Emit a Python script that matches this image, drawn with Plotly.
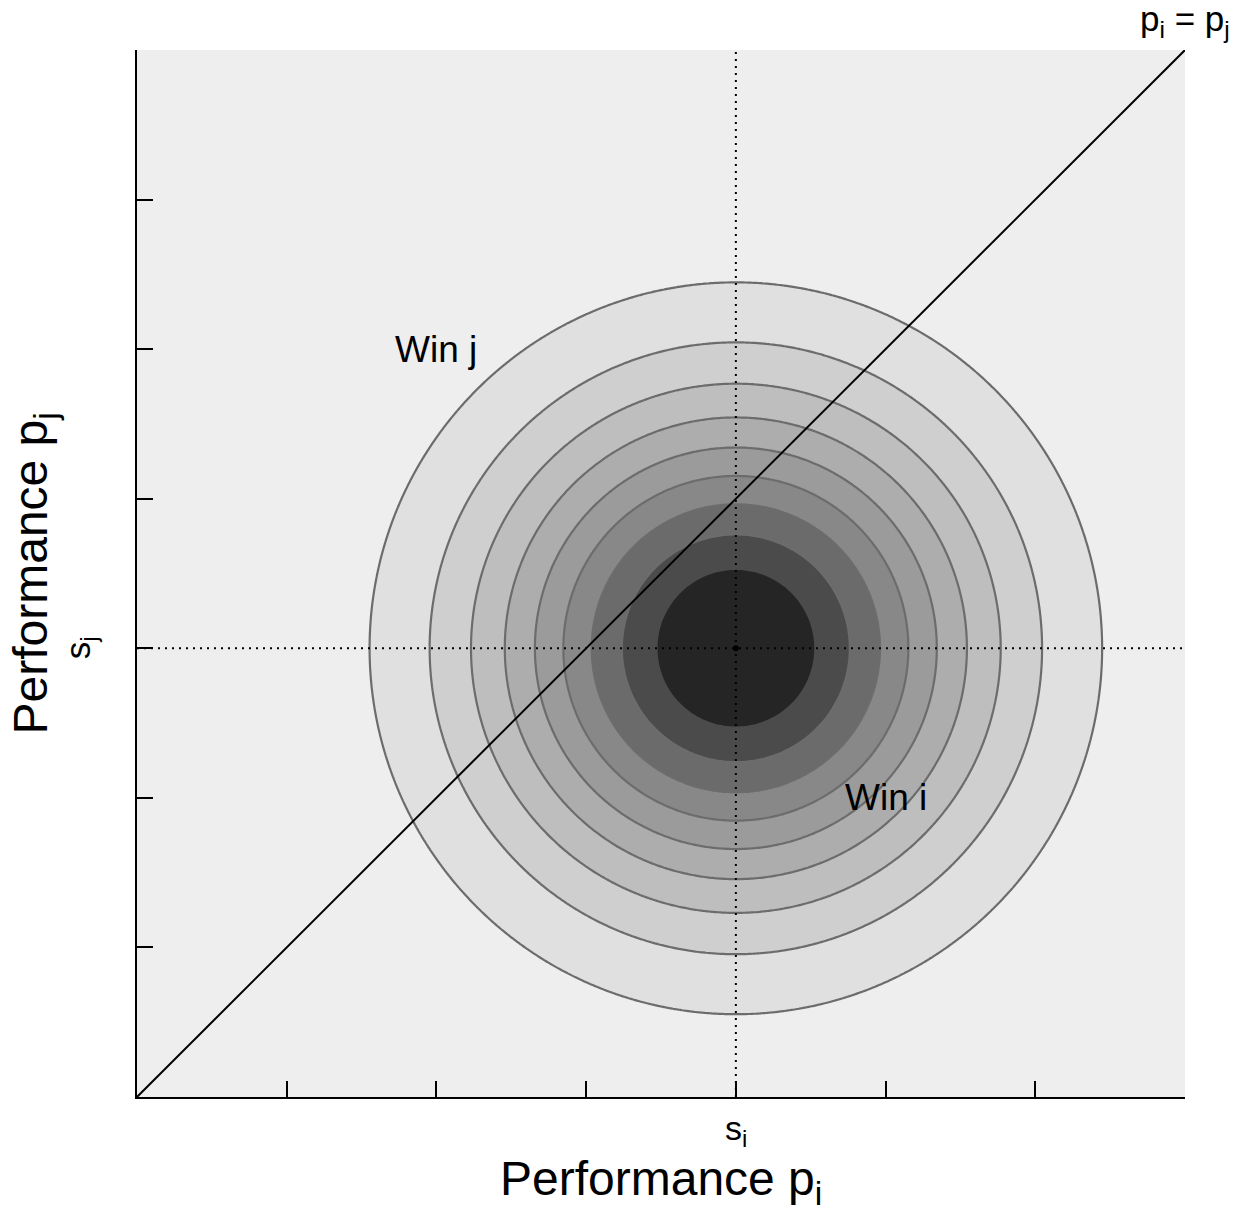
import numpy as np
import plotly.graph_objects as go

# Skill of player i and player j (centre of the joint performance density)
skill_i = 4.0
skill_j = 3.0
# Spread of each player's performance around the skill
perf_sigma = 1.14
# Relative density levels drawn as contours
density_levels = [0.1, 0.2, 0.3, 0.4, 0.5, 0.6, 0.7, 0.8, 0.9]
# Fill colours, from the region outside the lowest level to the core
band_colors = ["#eeeeee", "#e0e0e0", "#cfcfcf", "#bebebe", "#adadad",
               "#9b9b9b", "#888888", "#6b6b6b", "#4b4b4b", "#252525"]
# Axis extent and tick positions
axis_max = 7
tick_positions = [0, 1, 2, 3, 4, 5, 6, 7]

FONT = "Liberation Sans, Arial, sans-serif"

# Joint density of the two independent performances, relative to its peak
grid = np.linspace(0, axis_max, 351)
gx, gy = np.meshgrid(grid, grid)
rel_density = np.exp(-((gx - skill_i) ** 2 + (gy - skill_j) ** 2) / (2 * perf_sigma ** 2))

n_bands = len(band_colors)
colorscale = [[k / (n_bands - 1), c] for k, c in enumerate(band_colors)]
step = density_levels[1] - density_levels[0]

fig = go.Figure()

# Filled density bands
fig.add_trace(go.Contour(
    x=grid, y=grid, z=rel_density,
    colorscale=colorscale,
    showscale=False,
    contours=dict(start=density_levels[0], end=density_levels[-1], size=step,
                  coloring="fill", showlines=False),
    line=dict(width=0, smoothing=1),
    hoverinfo="skip",
))

# Outline of every band except the dark core
fig.add_trace(go.Contour(
    x=grid, y=grid, z=rel_density,
    showscale=False,
    contours=dict(start=density_levels[0], end=density_levels[-2], size=step,
                  coloring="none", showlines=True),
    line=dict(color="#6c6c6c", width=2.2, smoothing=1),
    hoverinfo="skip",
))

# Dotted crosshair through the skills
fig.add_trace(go.Scatter(x=[skill_i, skill_i], y=[0, axis_max], mode="lines",
                         line=dict(color="black", width=2, dash="2px,5px"),
                         hoverinfo="skip", showlegend=False))
fig.add_trace(go.Scatter(x=[0, axis_max], y=[skill_j, skill_j], mode="lines",
                         line=dict(color="black", width=2, dash="2px,5px"),
                         hoverinfo="skip", showlegend=False))

# Draw line p_i = p_j
fig.add_trace(go.Scatter(x=[0, axis_max], y=[0, axis_max], mode="lines",
                         line=dict(color="black", width=2),
                         hoverinfo="skip", showlegend=False))

# Centre point
fig.add_trace(go.Scatter(x=[skill_i], y=[skill_j], mode="markers",
                         marker=dict(color="black", size=6),
                         hoverinfo="skip", showlegend=False))

axis_common = dict(range=[0, axis_max], tickvals=tick_positions, showticklabels=False,
                   ticks="inside", ticklen=16, tickwidth=2, tickcolor="black",
                   showline=True, linewidth=2, linecolor="black",
                   showgrid=False, zeroline=False, mirror=False)

fig.update_layout(
    width=1247, height=1211,
    margin=dict(l=137, r=62, t=50, b=114),
    paper_bgcolor="white", plot_bgcolor="#eeeeee",
    font=dict(family=FONT, color="black"),
    showlegend=False,
    xaxis=axis_common,
    yaxis=axis_common,
)

annotations = [
    dict(x=2, y=5, xref="x", yref="y", text="Win j", showarrow=False,
         font=dict(size=37)),
    dict(x=5, y=2, xref="x", yref="y", text="Win i", showarrow=False,
         font=dict(size=37)),
    dict(x=axis_max, y=axis_max, xref="x", yref="y", text="p<sub>i</sub> = p<sub>j</sub>",
         showarrow=False, yanchor="bottom", yshift=5, font=dict(size=35)),
    dict(x=skill_i, y=0, xref="x", yref="paper", text="s<sub>i</sub>",
         showarrow=False, yanchor="top", yshift=-10, font=dict(size=34)),
    dict(x=0, y=skill_j, xref="paper", yref="y", text="s<sub>j</sub>",
         showarrow=False, xanchor="right", xshift=-33, textangle=-90, font=dict(size=35)),
    dict(x=0.5, y=0, xref="paper", yref="paper", text="Performance p<sub>i</sub>",
         showarrow=False, yanchor="top", yshift=-53, font=dict(size=48)),
    dict(x=0, y=0.5, xref="paper", yref="paper", text="Performance p<sub>j</sub>",
         showarrow=False, xanchor="right", xshift=-72, textangle=-90, font=dict(size=48)),
]
fig.update_layout(annotations=annotations)

fig.write_html("out.html")
